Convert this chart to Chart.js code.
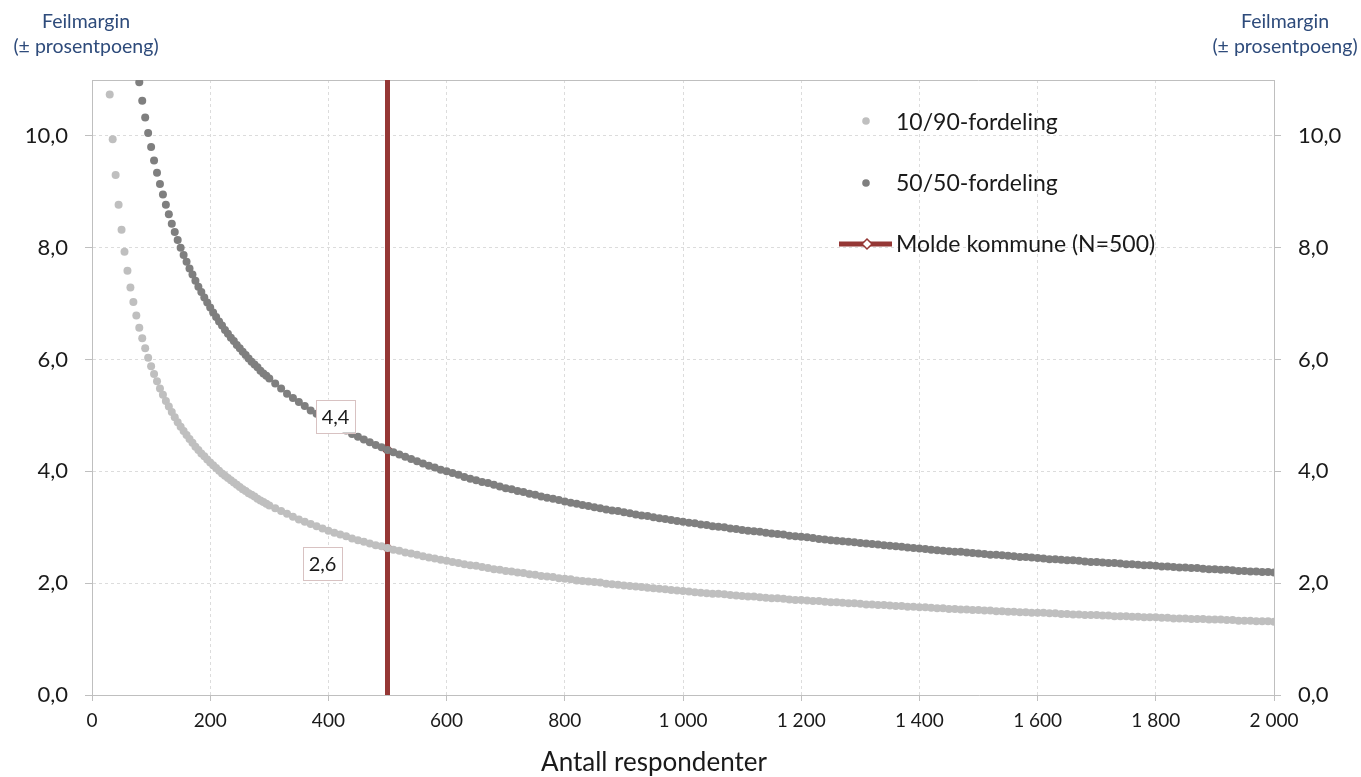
<!DOCTYPE html>
<html lang="no">
<head>
<meta charset="utf-8">
<title>Feilmargin</title>
<script src="https://cdn.jsdelivr.net/npm/chart.js@4.4.1/dist/chart.umd.min.js"></script>
<style>
    html, body { margin: 0; padding: 0; background: #fff; }
    .chart-box { position: relative; width: 1361px; height: 777px; }
</style>
</head>
<body>
<div class="chart-box"><canvas id="margin-chart"></canvas></div>
<script>
// number of respondents (x) - every 5 up to 300, then every 10
const respondents = [
    30, 35, 40, 45, 50, 55, 60, 65, 70, 75,
    80, 85, 90, 95, 100, 105, 110, 115, 120, 125,
    130, 135, 140, 145, 150, 155, 160, 165, 170, 175,
    180, 185, 190, 195, 200, 205, 210, 215, 220, 225,
    230, 235, 240, 245, 250, 255, 260, 265, 270, 275,
    280, 285, 290, 295, 300,
    310, 320, 330, 340, 350, 360, 370, 380, 390, 400,
    410, 420, 430, 440, 450, 460, 470, 480, 490, 500,
    510, 520, 530, 540, 550, 560, 570, 580, 590, 600,
    610, 620, 630, 640, 650, 660, 670, 680, 690, 700,
    710, 720, 730, 740, 750, 760, 770, 780, 790, 800,
    810, 820, 830, 840, 850, 860, 870, 880, 890, 900,
    910, 920, 930, 940, 950, 960, 970, 980, 990, 1000,
    1010, 1020, 1030, 1040, 1050, 1060, 1070, 1080, 1090, 1100,
    1110, 1120, 1130, 1140, 1150, 1160, 1170, 1180, 1190, 1200,
    1210, 1220, 1230, 1240, 1250, 1260, 1270, 1280, 1290, 1300,
    1310, 1320, 1330, 1340, 1350, 1360, 1370, 1380, 1390, 1400,
    1410, 1420, 1430, 1440, 1450, 1460, 1470, 1480, 1490, 1500,
    1510, 1520, 1530, 1540, 1550, 1560, 1570, 1580, 1590, 1600,
    1610, 1620, 1630, 1640, 1650, 1660, 1670, 1680, 1690, 1700,
    1710, 1720, 1730, 1740, 1750, 1760, 1770, 1780, 1790, 1800,
    1810, 1820, 1830, 1840, 1850, 1860, 1870, 1880, 1890, 1900,
    1910, 1920, 1930, 1940, 1950, 1960, 1970, 1980, 1990, 2000
];

// margin of error, 10/90 split
const margin1090 = [
    10.74, 9.94, 9.30, 8.77, 8.32, 7.93, 7.59, 7.29, 7.03, 6.79,
    6.57, 6.38, 6.20, 6.03, 5.88, 5.74, 5.61, 5.48, 5.37, 5.26,
    5.16, 5.06, 4.97, 4.88, 4.80, 4.72, 4.65, 4.58, 4.51, 4.44,
    4.38, 4.32, 4.27, 4.21, 4.16, 4.11, 4.06, 4.01, 3.96, 3.92,
    3.88, 3.84, 3.80, 3.76, 3.72, 3.68, 3.65, 3.61, 3.58, 3.55,
    3.51, 3.48, 3.45, 3.42, 3.39,
    3.34, 3.29, 3.24, 3.19, 3.14, 3.10, 3.06, 3.02, 2.98, 2.94,
    2.90, 2.87, 2.84, 2.80, 2.77, 2.74, 2.71, 2.68, 2.66, 2.63,
    2.60, 2.58, 2.55, 2.53, 2.51, 2.48, 2.46, 2.44, 2.42, 2.40,
    2.38, 2.36, 2.34, 2.32, 2.31, 2.29, 2.27, 2.25, 2.24, 2.22,
    2.21, 2.19, 2.18, 2.16, 2.15, 2.13, 2.12, 2.11, 2.09, 2.08,
    2.07, 2.05, 2.04, 2.03, 2.02, 2.01, 1.99, 1.98, 1.97, 1.96,
    1.95, 1.94, 1.93, 1.92, 1.91, 1.90, 1.89, 1.88, 1.87, 1.86,
    1.85, 1.84, 1.83, 1.82, 1.81, 1.81, 1.80, 1.79, 1.78, 1.77,
    1.76, 1.76, 1.75, 1.74, 1.73, 1.73, 1.72, 1.71, 1.70, 1.70,
    1.69, 1.68, 1.68, 1.67, 1.66, 1.66, 1.65, 1.64, 1.64, 1.63,
    1.62, 1.62, 1.61, 1.61, 1.60, 1.59, 1.59, 1.58, 1.58, 1.57,
    1.57, 1.56, 1.55, 1.55, 1.54, 1.54, 1.53, 1.53, 1.52, 1.52,
    1.51, 1.51, 1.50, 1.50, 1.49, 1.49, 1.48, 1.48, 1.47, 1.47,
    1.47, 1.46, 1.46, 1.45, 1.45, 1.44, 1.44, 1.43, 1.43, 1.43,
    1.42, 1.42, 1.41, 1.41, 1.41, 1.40, 1.40, 1.39, 1.39, 1.39,
    1.38, 1.38, 1.37, 1.37, 1.37, 1.36, 1.36, 1.36, 1.35, 1.35,
    1.35, 1.34, 1.34, 1.33, 1.33, 1.33, 1.32, 1.32, 1.32, 1.31
];

// margin of error, 50/50 split (above the axis top for the smallest samples)
const margin5050 = [
    null, null, null, null, null, null, null, null, null, null,
    10.96, 10.63, 10.33, 10.05, 9.80, 9.56, 9.34, 9.14, 8.95, 8.77,
    8.60, 8.43, 8.28, 8.14, 8.00, 7.87, 7.75, 7.63, 7.52, 7.41,
    7.30, 7.21, 7.11, 7.02, 6.93, 6.84, 6.76, 6.68, 6.61, 6.53,
    6.46, 6.39, 6.33, 6.26, 6.20, 6.14, 6.08, 6.02, 5.96, 5.91,
    5.86, 5.80, 5.75, 5.71, 5.66,
    5.57, 5.48, 5.39, 5.31, 5.24, 5.17, 5.09, 5.03, 4.96, 4.90,
    4.84, 4.78, 4.73, 4.67, 4.62, 4.57, 4.52, 4.47, 4.43, 4.38,
    4.34, 4.30, 4.26, 4.22, 4.18, 4.14, 4.10, 4.07, 4.03, 4.00,
    3.97, 3.94, 3.90, 3.87, 3.84, 3.81, 3.79, 3.76, 3.73, 3.70,
    3.68, 3.65, 3.63, 3.60, 3.58, 3.55, 3.53, 3.51, 3.49, 3.46,
    3.44, 3.42, 3.40, 3.38, 3.36, 3.34, 3.32, 3.30, 3.29, 3.27,
    3.25, 3.23, 3.21, 3.20, 3.18, 3.16, 3.15, 3.13, 3.11, 3.10,
    3.08, 3.07, 3.05, 3.04, 3.02, 3.01, 3.00, 2.98, 2.97, 2.95,
    2.94, 2.93, 2.92, 2.90, 2.89, 2.88, 2.87, 2.85, 2.84, 2.83,
    2.82, 2.81, 2.79, 2.78, 2.77, 2.76, 2.75, 2.74, 2.73, 2.72,
    2.71, 2.70, 2.69, 2.68, 2.67, 2.66, 2.65, 2.64, 2.63, 2.62,
    2.61, 2.60, 2.59, 2.58, 2.57, 2.56, 2.56, 2.55, 2.54, 2.53,
    2.52, 2.51, 2.51, 2.50, 2.49, 2.48, 2.47, 2.47, 2.46, 2.45,
    2.44, 2.43, 2.43, 2.42, 2.41, 2.41, 2.40, 2.39, 2.38, 2.38,
    2.37, 2.36, 2.36, 2.35, 2.34, 2.34, 2.33, 2.32, 2.32, 2.31,
    2.30, 2.30, 2.29, 2.28, 2.28, 2.27, 2.27, 2.26, 2.25, 2.25,
    2.24, 2.24, 2.23, 2.22, 2.22, 2.21, 2.21, 2.20, 2.20, 2.19
];

// Molde kommune: sample size and the two margins read at N=500 (10/90, 50/50)
const moldeN = 500;
const moldeMargins = [2.63, 4.38];

const seriesNames = ['10/90-fordeling', '50/50-fordeling', 'Molde kommune (N=500)'];
const unitLabel = ['Feilmargin', '(± prosentpoeng)'];
const xTitle = 'Antall respondenter';
const xMax = 2000;
const xStep = 200;
const yMax = 11;
const yStep = 2;

const FONT = "Lato, 'Open Sans', sans-serif";
const colors = {
    light: '#BFBFBF',
    dark: '#7F7F7F',
    molde: '#953735',
    grid: '#DCDCDC',
    frame: '#BFBFBF',
    text: '#1a1a1a',
    unit: '#2E4B7B',
    box: '#D8C2C2'
};

function toPoints(values) {
    return respondents
        .map((n, i) => ({ x: n, y: values[i] }))
        .filter((p) => p.y !== null);
}

const decimal = (v, d) => v.toFixed(d).replace('.', ',');
const thousands = (v) => String(v).replace(/\B(?=(\d{3})+(?!\d))/g, ' ');

// frame, value boxes, legend, x title and the unit labels in the corners
const decorations = {
    id: 'decorations',
    beforeDatasetsDraw(chart) {
        const { ctx, chartArea: a } = chart;
        ctx.save();
        ctx.strokeStyle = colors.frame;
        ctx.lineWidth = 1;
        ctx.beginPath();
        ctx.moveTo(a.left, a.top + 0.5);
        ctx.lineTo(a.right, a.top + 0.5);
        ctx.stroke();
        ctx.restore();
    },
    afterDraw(chart) {
        const { ctx } = chart;
        const xs = chart.scales.x;
        const ys = chart.scales.y;
        ctx.save();

        // value boxes next to the two diamonds
        const offsets = [[-65, 16], [-52, -34]];
        ctx.font = `20px ${FONT}`;
        ctx.textAlign = 'center';
        ctx.textBaseline = 'middle';
        moldeMargins.forEach((v, i) => {
            const cx = xs.getPixelForValue(moldeN) + offsets[i][0];
            const cy = ys.getPixelForValue(v) + offsets[i][1];
            ctx.fillStyle = '#fff';
            ctx.fillRect(cx - 19.5, cy - 16.5, 39, 33);
            ctx.strokeStyle = colors.box;
            ctx.lineWidth = 1;
            ctx.strokeRect(Math.round(cx - 19.5) + 0.5, Math.round(cy - 16.5) + 0.5, 39, 33);
            ctx.fillStyle = colors.text;
            ctx.fillText(decimal(v, 1), cx, cy + 1);
        });

        // legend
        ctx.font = `23px ${FONT}`;
        ctx.textAlign = 'left';
        ctx.fillStyle = colors.light;
        ctx.beginPath();
        ctx.arc(866, 121, 3.8, 0, Math.PI * 2);
        ctx.fill();
        ctx.fillStyle = colors.dark;
        ctx.beginPath();
        ctx.arc(866, 183, 3.8, 0, Math.PI * 2);
        ctx.fill();
        ctx.strokeStyle = colors.molde;
        ctx.lineWidth = 5;
        ctx.beginPath();
        ctx.moveTo(839, 244);
        ctx.lineTo(892, 244);
        ctx.stroke();
        ctx.fillStyle = '#fff';
        ctx.lineWidth = 1.5;
        ctx.beginPath();
        ctx.moveTo(867, 239);
        ctx.lineTo(872, 244);
        ctx.lineTo(867, 249);
        ctx.lineTo(862, 244);
        ctx.closePath();
        ctx.fill();
        ctx.stroke();
        ctx.fillStyle = colors.text;
        ctx.fillText(seriesNames[0], 896, 123);
        ctx.fillText(seriesNames[1], 896, 184);
        ctx.fillText(seriesNames[2], 896, 245);

        // x axis title
        ctx.font = `26px ${FONT}`;
        ctx.textAlign = 'center';
        ctx.fillText(xTitle, 654, 763);

        // unit labels on both sides
        ctx.font = `19.5px ${FONT}`;
        ctx.fillStyle = colors.unit;
        [86, 1285].forEach((x) => {
            ctx.fillText(unitLabel[0], x, 22);
            ctx.fillText(unitLabel[1], x, 47);
        });
        ctx.restore();
    }
};

const yTicks = {
    stepSize: yStep,
    padding: 17,
    color: colors.text,
    font: { family: FONT, size: 22 },
    callback: (v) => decimal(v, 1)
};

new Chart(document.getElementById('margin-chart'), {
    type: 'scatter',
    data: {
        datasets: [
            {
                label: seriesNames[0],
                data: toPoints(margin1090),
                backgroundColor: colors.light,
                pointRadius: 4,
                pointHoverRadius: 4,
                pointBorderWidth: 0
            },
            {
                label: seriesNames[1],
                data: toPoints(margin5050),
                backgroundColor: colors.dark,
                pointRadius: 4,
                pointHoverRadius: 4,
                pointBorderWidth: 0
            },
            {
                label: seriesNames[2],
                data: [
                    { x: moldeN, y: 0 },
                    { x: moldeN, y: moldeMargins[0] },
                    { x: moldeN, y: moldeMargins[1] },
                    { x: moldeN, y: yMax }
                ],
                showLine: true,
                borderColor: colors.molde,
                borderWidth: 5,
                pointStyle: 'rectRot',
                pointRadius: [0, 5, 5, 0],
                pointBackgroundColor: '#fff',
                pointBorderColor: colors.molde,
                pointBorderWidth: 1.5
            }
        ]
    },
    options: {
        responsive: true,
        maintainAspectRatio: false,
        devicePixelRatio: 1,
        animation: false,
        events: [],
        layout: { padding: { top: 80, left: 0, right: 0, bottom: 0 } },
        plugins: {
            legend: { display: false },
            tooltip: { enabled: false }
        },
        scales: {
            x: {
                type: 'linear',
                min: 0,
                max: xMax,
                afterFit: (scale) => { scale.height = 82; },
                ticks: {
                    stepSize: xStep,
                    padding: 8,
                    maxRotation: 0,
                    autoSkip: false,
                    color: colors.text,
                    font: { family: FONT, size: 19 },
                    callback: (v) => thousands(v)
                },
                grid: { color: colors.grid, tickLength: 6, tickColor: colors.frame, tickBorderDash: [] },
                border: { color: colors.frame, dash: [3, 3] }
            },
            y: {
                type: 'linear',
                position: 'left',
                min: 0,
                max: yMax,
                afterBuildTicks: (scale) => { scale.ticks = scale.ticks.filter((t) => t.value % yStep === 0); },
                afterFit: (scale) => { scale.width = 92; },
                ticks: yTicks,
                grid: { color: colors.grid, tickLength: 7, tickColor: colors.frame, tickBorderDash: [] },
                border: { color: colors.frame, dash: [3, 3] }
            },
            y2: {
                type: 'linear',
                position: 'right',
                min: 0,
                max: yMax,
                afterBuildTicks: (scale) => { scale.ticks = scale.ticks.filter((t) => t.value % yStep === 0); },
                afterFit: (scale) => { scale.width = 87; },
                ticks: yTicks,
                grid: { drawOnChartArea: false, tickLength: 7, color: colors.frame, tickColor: colors.frame },
                border: { color: colors.frame }
            }
        }
    },
    plugins: [decorations]
});
</script>
</body>
</html>
